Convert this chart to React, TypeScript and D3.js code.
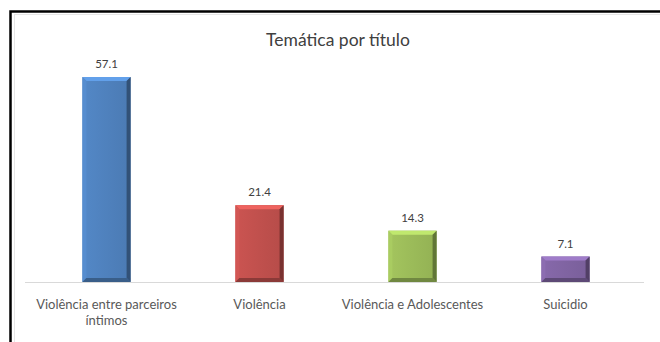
import React from "react";
import * as d3 from "d3";

const categories = ["Violência entre parceiros|íntimos", "Violência", "Violência e Adolescentes", "Suicidio"];
const values = [57.1, 21.4, 14.3, 7.1];
const colors = ["#4F81BD", "#C0504D", "#9BBB59", "#8064A2"];
const title = "Temática por título";

export default function App() {
  const W = 660, H = 342;
  const x = d3.scaleBand<string>().domain(categories).range([30, 642]).paddingInner(0.685).paddingOuter(0.3425);
  const y = d3.scaleLinear().domain([0, 60]).range([282, 66.6]);
  const bw = x.bandwidth();
  const b = 4;
  const font = "Lato, 'Open Sans', sans-serif";
  return (
    <svg width={W} height={H} style={{ position: "absolute", left: 0, top: 0 }}>
      <defs>
        {colors.map((c, i) => (
          <linearGradient key={i} id={`g${i}`} x1="0" x2="1" y1="0" y2="0">
            <stop offset="0" stopColor={d3.color(c)!.brighter(0.15).toString()} />
            <stop offset="0.5" stopColor={c} />
            <stop offset="1" stopColor={d3.color(c)!.darker(0.15).toString()} />
          </linearGradient>
        ))}
      </defs>
      <rect x={0} y={0} width={W} height={H} fill="#fff" />
      <rect x={10.5} y={11.5} width={W} height={H} fill="none" stroke="#000" strokeWidth={2.5} />
      <rect x={14.5} y={14.5} width={W} height={H} fill="none" stroke="#e6e6e6" strokeWidth={1} />
      <text x={338} y={46} textAnchor="middle" fontFamily={font} fontSize={17.5} fill="#404040">{title}</text>
      <line x1={25} x2={644} y1={282.5} y2={282.5} stroke="#d9d9d9" strokeWidth={1} />
      {categories.map((cat, i) => {
        const x0 = x(cat)!;
        const x1 = x0 + bw;
        const y0 = y(values[i]);
        const y1 = y(0);
        const c = d3.color(colors[i])!;
        const light = c.brighter(0.6).toString();
        const dark = c.darker(0.9).toString();
        const darker = c.darker(1.3).toString();
        const midL = c.brighter(0.25).toString();
        const cx = x0 + bw / 2;
        const lines = cat.split("|");
        return (
          <g key={cat}>
            <rect x={x0} y={y0} width={bw} height={y1 - y0} fill={`url(#g${i})`} />
            <polygon points={`${x0},${y0} ${x1},${y0} ${x1 - b},${y0 + b} ${x0 + b},${y0 + b}`} fill={light} />
            <polygon points={`${x0},${y0} ${x0 + b},${y0 + b} ${x0 + b},${y1 - b} ${x0},${y1}`} fill={midL} />
            <polygon points={`${x1},${y0} ${x1},${y1} ${x1 - b},${y1 - b} ${x1 - b},${y0 + b}`} fill={darker} />
            <polygon points={`${x0},${y1} ${x1},${y1} ${x1 - b},${y1 - b} ${x0 + b},${y1 - b}`} fill={dark} />
            <text x={cx} y={y0 - 9} textAnchor="middle" fontFamily={font} fontSize={11.5} fill="#404040">{values[i].toFixed(1)}</text>
            {lines.map((l, j) => (
              <text key={j} x={cx} y={309 + j * 16} textAnchor="middle" fontFamily={font} fontSize={13} fill="#595959">{l}</text>
            ))}
          </g>
        );
      })}
    </svg>
  );
}
